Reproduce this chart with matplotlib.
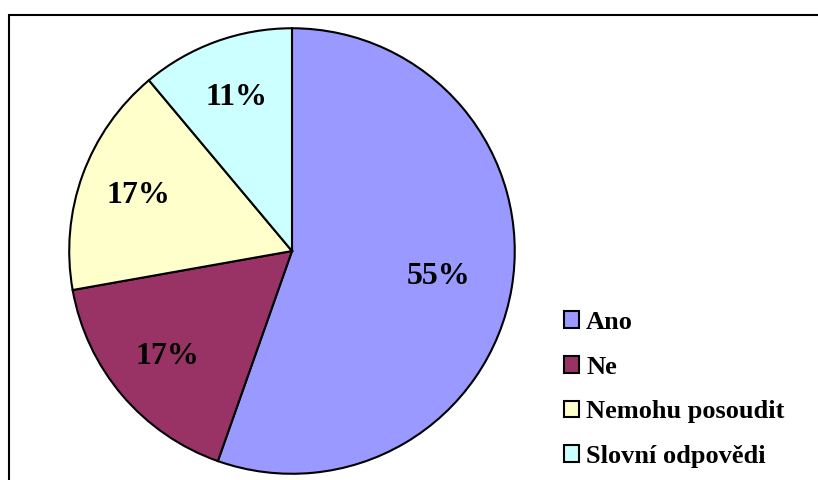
import matplotlib
matplotlib.use("Agg")
import matplotlib.pyplot as plt
from matplotlib.patches import Rectangle

# answers, share in percent
categories = ["Ano", "Ne", "Nemohu posoudit", "Slovní odpovědi"]
shares = [55.4, 16.8, 16.7, 11.1]
colors = ["#9999FF", "#993366", "#FFFFCC", "#CCFFFF"]

plt.rcParams["font.family"] = ["Liberation Serif", "DejaVu Serif"]

fig = plt.figure(figsize=(8.18, 4.8), dpi=100)
fig.patch.set_facecolor("white")

# pie area (centre ~ 292,251 px, radius ~225 px)
ax = fig.add_axes([0.0819, 0.0083, 0.5501, 0.9375])
wedges, texts, autotexts = ax.pie(
    shares,
    colors=colors,
    startangle=90,
    counterclock=False,
    autopct="%1.0f%%",
    pctdistance=0.735,
    wedgeprops=dict(edgecolor="black", linewidth=1.5),
    textprops=dict(fontsize=23, fontweight="bold", color="black"),
)
# the big slice has its label a bit closer to the centre
x, y = autotexts[0].get_position()
autotexts[0].set_position((x * 0.91, y * 0.91))
ax.set_aspect("equal")
ax.set_xlim(-1.01, 1.01)
ax.set_ylim(-1.01, 1.01)
ax.axis("off")

leg = fig.legend(
    wedges, categories,
    loc="upper left",
    bbox_to_anchor=(0.689, 0.352),
    frameon=False,
    prop=dict(family="Liberation Serif", weight="bold", size=19),
    handlelength=0.6,
    handleheight=0.6,
    handletextpad=0.25,
    labelspacing=0.82,
    borderaxespad=0,
    borderpad=0,
)
for h in leg.legend_handles:
    h.set_linewidth(1.5)

# chart frame (only top and left edges are inside the picture)
top = 1 - 15 / 480
frame = Rectangle((9 / 818, -0.2), 1.2, top + 0.2,
                  transform=fig.transFigure, fill=False,
                  edgecolor="black", linewidth=1.5, clip_on=False)
fig.add_artist(frame)

fig.savefig("out.png", dpi=100)
